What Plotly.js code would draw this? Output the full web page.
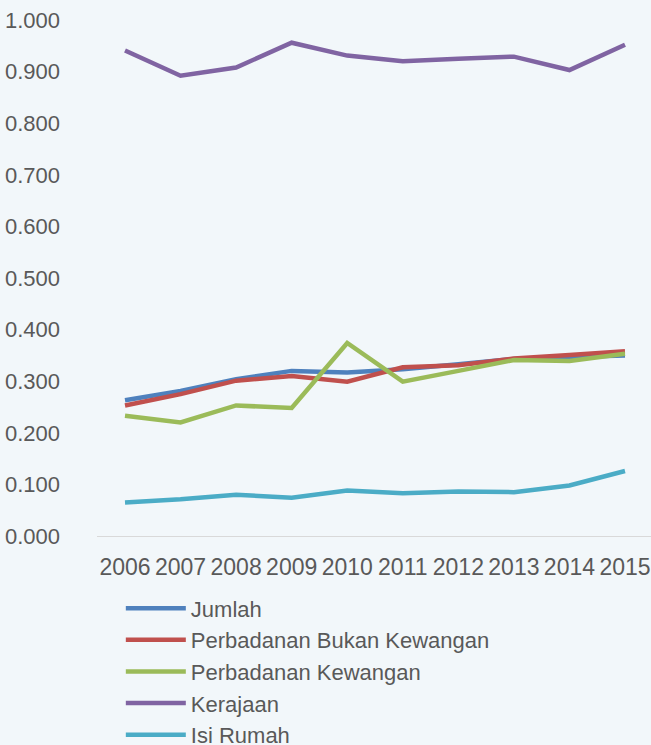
<!DOCTYPE html>
<html>
<head>
<meta charset="utf-8">
<script src="https://cdn.plot.ly/plotly-3.0.1.min.js"></script>
<style>html,body{margin:0;padding:0;background:#f2f7fa;}</style>
</head>
<body>
<div id="chart" style="width:651px;height:745px;"></div>
<script>
const years = [2006, 2007, 2008, 2009, 2010, 2011, 2012, 2013, 2014, 2015];
const seriesNames = ["Jumlah", "Perbadanan Bukan Kewangan", "Perbadanan Kewangan", "Kerajaan", "Isi Rumah"];
const jumlah = [0.263, 0.281, 0.304, 0.320, 0.317, 0.323, 0.333, 0.343, 0.347, 0.350];
const perbadananBukanKewangan = [0.253, 0.275, 0.301, 0.310, 0.299, 0.327, 0.331, 0.344, 0.351, 0.358];
const perbadananKewangan = [0.233, 0.220, 0.253, 0.248, 0.374, 0.299, 0.320, 0.341, 0.339, 0.353];
const kerajaan = [0.941, 0.892, 0.908, 0.956, 0.931, 0.920, 0.925, 0.929, 0.903, 0.952];
const isiRumah = [0.065, 0.071, 0.080, 0.074, 0.088, 0.083, 0.086, 0.085, 0.098, 0.126];
const yTicks = [0, 0.1, 0.2, 0.3, 0.4, 0.5, 0.6, 0.7, 0.8, 0.9, 1.0];
const yTickText = ["0.000", "0.100", "0.200", "0.300", "0.400", "0.500", "0.600", "0.700", "0.800", "0.900", "1.000"];

const colors = ["#4F81BD", "#C0504D", "#9BBB59", "#8064A2", "#4BACC6"];
const values = [jumlah, perbadananBukanKewangan, perbadananKewangan, kerajaan, isiRumah];

const traces = values.map((v, i) => ({
  x: years, y: v, name: seriesNames[i], type: "scatter", mode: "lines",
  line: {color: colors[i], width: 4.5}
}));

const layout = {
  width: 651, height: 745,
  paper_bgcolor: "#f2f7fa", plot_bgcolor: "#f2f7fa",
  font: {family: "Liberation Sans, Arial, sans-serif", color: "#595959", size: 22},
  margin: {l: 97, r: 0, t: 20, b: 209, autoexpand: false},
  showlegend: true,
  xaxis: {
    range: [2005.496, 2015.468], tickvals: years, ticktext: years.map(String),
    showgrid: false, zeroline: false, showline: true, linecolor: "#d9d9d9", linewidth: 1,
    ticks: "", tickfont: {size: 23, color: "#595959"}, ticklabelstandoff: 10, automargin: false
  },
  yaxis: {
    range: [0, 1.0], tickvals: yTicks, ticktext: yTickText,
    showgrid: false, zeroline: false, showline: false, ticks: "",
    tickfont: {size: 22, color: "#595959"}, ticklabelstandoff: 36, automargin: false
  },
  legend: {
    orientation: "v", x: 0.043, xanchor: "left", yref: "container", y: 0.2115, yanchor: "top",
    font: {size: 22, color: "#595959"}, bgcolor: "rgba(0,0,0,0)",
    tracegroupgap: 0, itemwidth: 60
  }
};
Plotly.newPlot("chart", traces, layout, {displayModeBar: false, staticPlot: true});
</script>
</body>
</html>
